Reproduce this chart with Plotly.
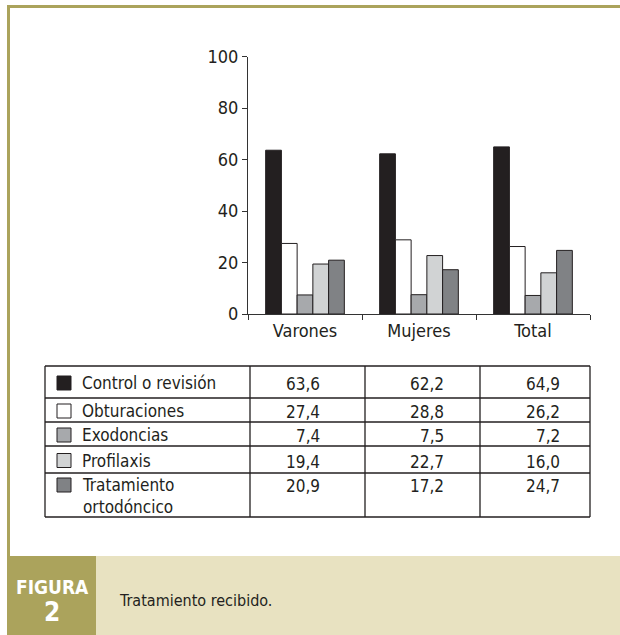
import plotly.graph_objects as go

categories = ["Varones", "Mujeres", "Total"]
series_names = ["Control o revisión", "Obturaciones", "Exodoncias", "Profilaxis", "Tratamiento<br>ortodóncico"]
control = [63.6, 62.2, 64.9]
obturaciones = [27.4, 28.8, 26.2]
exodoncias = [7.4, 7.5, 7.2]
profilaxis = [19.4, 22.7, 16.0]
tratamiento = [20.9, 17.2, 24.7]
y_ticks = [0, 20, 40, 60, 80, 100]
caption_label = "FIGURA"
caption_number = "2"
caption_text = "Tratamiento recibido."

series_values = [control, obturaciones, exodoncias, profilaxis, tratamiento]
colors = ["#231f20", "#ffffff", "#a7a9ac", "#d1d3d4", "#808285"]

W, H = 620, 635
FONT = "DejaVu Sans Condensed, Roboto, sans-serif"
TXT = "#231f20"
OLIVE = "#aba35c"
BEIGE = "#e8e2c1"

def px(x):
    return x / W

def py(y):
    return 1 - y / H

fig = go.Figure()
for name, vals, col in zip(series_names, series_values, colors):
    fig.add_trace(go.Bar(
        x=categories, y=vals, name=name.replace("<br>", " "),
        marker=dict(color=col, line=dict(color="#231f20", width=1)),
        showlegend=False,
    ))

shapes = []
annotations = []

# outer frame (olive)
shapes.append(dict(type="line", xref="paper", yref="paper", x0=px(8.5), x1=px(620), y0=py(6.5), y1=py(6.5),
                   line=dict(color=OLIVE, width=3)))
shapes.append(dict(type="line", xref="paper", yref="paper", x0=px(8.5), x1=px(8.5), y0=py(5), y1=py(635),
                   line=dict(color=OLIVE, width=3)))
# caption band
shapes.append(dict(type="rect", xref="paper", yref="paper", x0=px(7), x1=px(620), y0=py(556), y1=py(635),
                   fillcolor=BEIGE, line=dict(width=0), layer="below"))
shapes.append(dict(type="rect", xref="paper", yref="paper", x0=px(7), x1=px(96), y0=py(556), y1=py(635),
                   fillcolor=OLIVE, line=dict(width=0), layer="below"))
annotations.append(dict(x=px(52), y=py(587), xref="paper", yref="paper", text="<b>" + caption_label + "</b>",
                        showarrow=False, font=dict(family=FONT, size=19, color="white"), xanchor="center", yanchor="middle"))
annotations.append(dict(x=px(52), y=py(612), xref="paper", yref="paper", text="<b>" + caption_number + "</b>",
                        showarrow=False, font=dict(family=FONT, size=26, color="white"), xanchor="center", yanchor="middle"))
annotations.append(dict(x=px(117), y=py(600), xref="paper", yref="paper", text=caption_text,
                        showarrow=False, font=dict(family=FONT, size=16, color=TXT), xanchor="left", yanchor="middle"))

# data table
col_x = [45, 250, 365, 480, 590]
row_y = [366, 398, 422, 446, 473, 517]
value_right = [322, 446, 562]
lw = 1.3
for x in col_x:
    shapes.append(dict(type="line", xref="paper", yref="paper", x0=px(x), x1=px(x), y0=py(row_y[0]), y1=py(row_y[-1]),
                       line=dict(color=TXT, width=lw)))
for y in row_y:
    shapes.append(dict(type="line", xref="paper", yref="paper", x0=px(col_x[0]), x1=px(col_x[-1]), y0=py(y), y1=py(y),
                       line=dict(color=TXT, width=lw)))

for i, (name, vals, col) in enumerate(zip(series_names, series_values, colors)):
    top, bot = row_y[i], row_y[i + 1]
    if i == len(series_names) - 1:
        cy = top + 12
        ty = (top + bot) / 2 + 1
    else:
        cy = (top + bot) / 2 + 1
        ty = cy
    shapes.append(dict(type="rect", xref="paper", yref="paper", x0=px(57), x1=px(71), y0=py(cy - 7), y1=py(cy + 7),
                       fillcolor=col, line=dict(color=TXT, width=1)))
    annotations.append(dict(x=px(80), y=py(ty), xref="paper", yref="paper", text=name, showarrow=False,
                            font=dict(family=FONT, size=17, color=TXT), xanchor="left", yanchor="middle",
                            align="left"))
    for j, v in enumerate(vals):
        annotations.append(dict(x=px(value_right[j]), y=py(cy + 1), xref="paper", yref="paper",
                                text=f"{v:.1f}".replace(".", ","), showarrow=False,
                                font=dict(family=FONT, size=17, color=TXT), xanchor="right", yanchor="middle"))

fig.update_layout(
    width=W, height=H, autosize=False,
    margin=dict(l=0, r=0, t=0, b=0, pad=0),
    paper_bgcolor="white", plot_bgcolor="white",
    barmode="group", bargap=0.31, bargroupgap=0,
    font=dict(family=FONT, color=TXT),
    shapes=shapes, annotations=annotations,
    xaxis=dict(domain=[px(248), px(590)], range=[-0.5, 2.5], showline=True, linecolor="#333", linewidth=1,
               ticks="outside", ticklen=5, tickcolor="#333", tickson="boundaries", showgrid=False, automargin=False,
               tickfont=dict(family=FONT, size=18, color=TXT), fixedrange=True),
    yaxis=dict(domain=[py(314), py(56.5)], range=[0, 100], tickvals=y_ticks, showline=True, linecolor="#333",
               linewidth=1, ticks="outside", ticklen=5, tickcolor="#333", showgrid=False, zeroline=False,
               automargin=False, tickfont=dict(family=FONT, size=18, color=TXT), fixedrange=True),
)

fig.write_html("out.html", config={"displayModeBar": False},
               post_script="document.body.style.margin='0';document.body.style.padding='0';")
